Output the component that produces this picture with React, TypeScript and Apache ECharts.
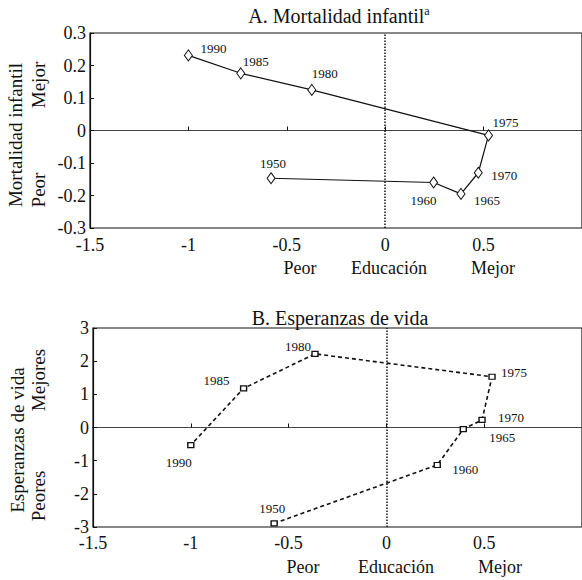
import React, { useEffect, useRef } from "react";
import * as echarts from "echarts";

const years = [1950, 1960, 1965, 1970, 1975, 1980, 1985, 1990];
const mortEdu = [-0.58, 0.246, 0.385, 0.473, 0.525, -0.373, -0.734, -1.0];
const mortVal = [-0.147, -0.16, -0.195, -0.13, -0.015, 0.125, 0.176, 0.231];
const lifeEdu = [-0.574, 0.26, 0.393, 0.489, 0.54, -0.365, -0.73, -1.0];
const lifeVal = [-2.89, -1.13, -0.05, 0.23, 1.53, 2.22, 1.18, -0.53];

const mortLabelOffsets = [[2, -15], [-10, 18], [26, 7], [26, 3], [17, -13], [13, -16], [15, -12], [25, -7]];
const lifeLabelOffsets = [[-2, -15], [28, 5], [39, 8], [29, -2], [22, -4], [-17, -7], [-27, -8], [-12, 17]];

const FONT = "'Liberation Serif', 'Times New Roman', serif";
const INK = "#111";

export default function App() {
  const ref = useRef<HTMLDivElement>(null);
  useEffect(() => {
    if (!ref.current) return;
    const chart = echarts.init(ref.current, undefined, { renderer: "svg" });

    const mk = (xs: number[], ys: number[], offs: number[][]) =>
      xs.map((x, i) => ({
        value: [x, ys[i]],
        name: String(years[i]),
        label: { offset: offs[i] },
      }));

    const axisCommonX = (gi: number, margin: number) => ({
      type: "value",
      gridIndex: gi,
      min: -1.5,
      max: 1,
      interval: 0.5,
      axisLine: { show: true, lineStyle: { color: INK, width: 1.2 } },
      axisTick: { show: true, inside: true, length: 4, lineStyle: { color: INK } },
      axisLabel: {
        color: INK,
        fontFamily: FONT,
        fontSize: 18,
        lineHeight: 15,
        margin,
        showMaxLabel: false,
        formatter: (v: number) => String(v),
      },
      splitLine: { show: false },
    });

    const zeroX = (gi: number, yi: number) => ({
      type: "value",
      gridIndex: gi,
      min: -1.5,
      max: 1,
      interval: 0.5,
      position: "bottom",
      axisLine: { show: true, onZero: true, onZeroAxisIndex: yi, lineStyle: { color: "#444", width: 1.2 } },
      axisTick: { show: false },
      axisLabel: { show: false },
      splitLine: { show: false },
    });

    const markZero = {
      silent: true,
      symbol: "none",
      label: { show: false },
      lineStyle: { color: INK, width: 1.5, type: "dotted" },
      data: [{ xAxis: 0 }],
    };

    const option: any = {
      animation: false,
      grid: [
        { left: 90, top: 33, height: 195, right: -1, show: true, borderColor: INK, borderWidth: 1.2 },
        { left: 93, top: 328, height: 199, right: -11, show: true, borderColor: INK, borderWidth: 1.2 },
      ],
      xAxis: [axisCommonX(0, 9), axisCommonX(1, 8), zeroX(0, 0), zeroX(1, 1)],
      yAxis: [
        {
          type: "value",
          gridIndex: 0,
          min: -0.3,
          max: 0.3,
          interval: 0.1,
          axisLine: { show: true, onZero: false, lineStyle: { color: INK, width: 1.2 } },
          axisTick: { show: true, inside: true, length: 4, lineStyle: { color: INK } },
          axisLabel: {
            color: INK,
            fontFamily: FONT,
            fontSize: 18,
            lineHeight: 15,
            margin: 4,
            formatter: (v: number) => String(Math.round(v * 10) / 10),
          },
          splitLine: { show: false },
        },
        {
          type: "value",
          gridIndex: 1,
          min: -3,
          max: 3,
          interval: 1,
          axisLine: { show: true, onZero: false, lineStyle: { color: INK, width: 1.2 } },
          axisTick: { show: true, inside: true, length: 4, lineStyle: { color: INK } },
          axisLabel: { color: INK, fontFamily: FONT, fontSize: 18, lineHeight: 15, margin: 4 },
          splitLine: { show: false },
        },
      ],
      series: [
        {
          type: "line",
          xAxisIndex: 0,
          yAxisIndex: 0,
          data: mk(mortEdu, mortVal, mortLabelOffsets),
          symbol: "diamond",
          symbolSize: [8, 11],
          showAllSymbol: true,
          itemStyle: { color: "#fff", borderColor: INK, borderWidth: 1 },
          lineStyle: { color: INK, width: 1.2 },
          label: {
            show: true,
            position: "inside",
            formatter: "{b}",
            color: INK,
            fontFamily: FONT,
            fontSize: 13,
          },
          markLine: markZero,
          z: 3,
        },
        {
          type: "line",
          xAxisIndex: 1,
          yAxisIndex: 1,
          data: mk(lifeEdu, lifeVal, lifeLabelOffsets),
          symbol: "rect",
          symbolSize: [6, 5],
          showAllSymbol: true,
          itemStyle: { color: "#fff", borderColor: INK, borderWidth: 1.3 },
          lineStyle: { color: INK, width: 1.6, type: [4, 3] },
          label: {
            show: true,
            position: "inside",
            formatter: "{b}",
            color: INK,
            fontFamily: FONT,
            fontSize: 13,
          },
          markLine: markZero,
          z: 3,
        },
      ],
      graphic: [
        {
          type: "text",
          x: 339,
          y: 16,
          style: {
            text: "A. Mortalidad infantil{sup|a}",
            fontFamily: FONT,
            fontSize: 20,
            fill: INK,
            align: "center",
            verticalAlign: "middle",
            rich: { sup: { fontSize: 12, fontFamily: FONT, fill: INK, verticalAlign: "top", padding: [0, 0, 10, 0] } },
          },
        },
        {
          type: "text",
          x: 340,
          y: 318,
          style: { text: "B. Esperanzas de vida", fontFamily: FONT, fontSize: 20, fill: INK, align: "center", verticalAlign: "middle" },
        },
        {
          type: "text", x: 15, y: 135, rotation: Math.PI / 2,
          style: { text: "Mortalidad infantil", fontFamily: FONT, fontSize: 19, fill: INK, align: "center", verticalAlign: "middle" },
        },
        {
          type: "text", x: 38, y: 85, rotation: Math.PI / 2,
          style: { text: "Mejor", fontFamily: FONT, fontSize: 19, fill: INK, align: "center", verticalAlign: "middle" },
        },
        {
          type: "text", x: 38, y: 190, rotation: Math.PI / 2,
          style: { text: "Peor", fontFamily: FONT, fontSize: 19, fill: INK, align: "center", verticalAlign: "middle" },
        },
        {
          type: "text", x: 17, y: 440, rotation: Math.PI / 2,
          style: { text: "Esperanzas de vida", fontFamily: FONT, fontSize: 19, fill: INK, align: "center", verticalAlign: "middle" },
        },
        {
          type: "text", x: 38, y: 380, rotation: Math.PI / 2,
          style: { text: "Mejores", fontFamily: FONT, fontSize: 19, fill: INK, align: "center", verticalAlign: "middle" },
        },
        {
          type: "text", x: 38, y: 496, rotation: Math.PI / 2,
          style: { text: "Peores", fontFamily: FONT, fontSize: 19, fill: INK, align: "center", verticalAlign: "middle" },
        },
        { type: "text", x: 300, y: 268, style: { text: "Peor", fontFamily: FONT, fontSize: 18, fill: INK, align: "center", verticalAlign: "middle" } },
        { type: "text", x: 389, y: 268, style: { text: "Educación", fontFamily: FONT, fontSize: 18, fill: INK, align: "center", verticalAlign: "middle" } },
        { type: "text", x: 493, y: 268, style: { text: "Mejor", fontFamily: FONT, fontSize: 18, fill: INK, align: "center", verticalAlign: "middle" } },
        { type: "text", x: 303, y: 567, style: { text: "Peor", fontFamily: FONT, fontSize: 18, fill: INK, align: "center", verticalAlign: "middle" } },
        { type: "text", x: 396, y: 567, style: { text: "Educación", fontFamily: FONT, fontSize: 18, fill: INK, align: "center", verticalAlign: "middle" } },
        { type: "text", x: 500, y: 567, style: { text: "Mejor", fontFamily: FONT, fontSize: 18, fill: INK, align: "center", verticalAlign: "middle" } },
      ],
    };

    chart.setOption(option);
    return () => chart.dispose();
  }, []);

  return (
    <div
      ref={ref}
      style={{ position: "fixed", left: 0, top: 0, width: 582, height: 580, background: "#fff" }}
    />
  );
}
